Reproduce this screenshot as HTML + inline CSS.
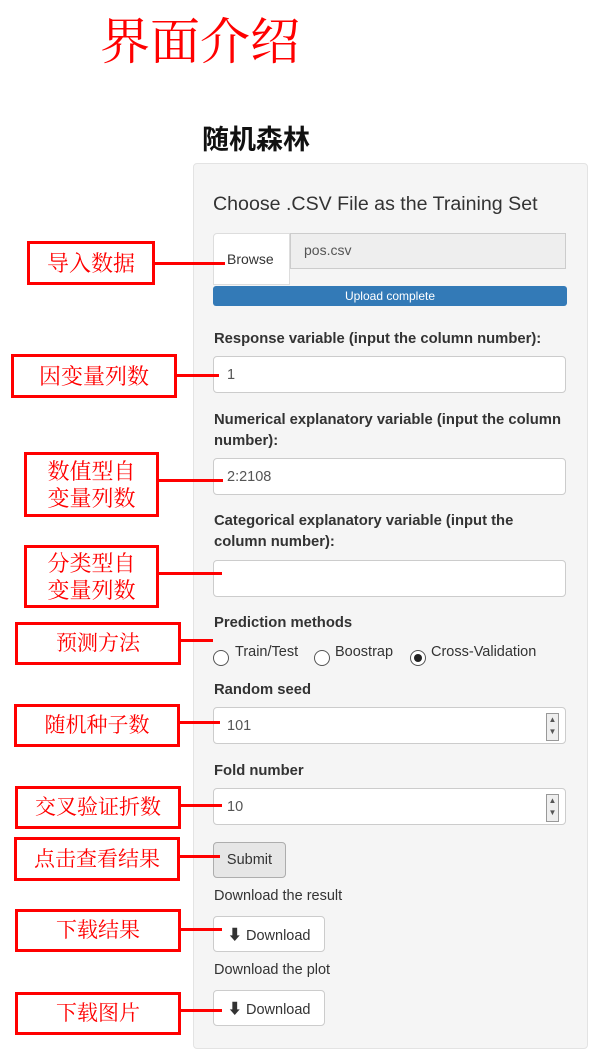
<!DOCTYPE html>
<html><head><meta charset="utf-8"><style>
body{margin:0;width:600px;height:1062px;background:#fff;position:relative;overflow:hidden;font-family:"Liberation Sans","Noto Sans CJK SC",sans-serif;}
.a{position:absolute;}
.t{font-family:"Liberation Serif","Noto Serif CJK SC",serif;color:#f00;}
.box{position:absolute;border:3px solid #f00;box-sizing:border-box;display:flex;align-items:center;justify-content:center;text-align:center;font-family:"Liberation Serif","Noto Serif CJK SC",serif;color:#f00;font-size:21px;line-height:27px;background:#fff;}
.ln{position:absolute;height:3px;background:#f00;}
.lbl{position:absolute;left:214px;font-weight:bold;font-size:14.8px;color:#333;line-height:21px;}
.inp{position:absolute;left:213px;width:353px;background:#fff;border:1px solid #ccc;border-radius:4px;box-sizing:border-box;font-size:14.5px;color:#555;padding-left:13px;display:flex;align-items:center;}
.txt{position:absolute;left:214px;font-size:14.5px;color:#333;}
.btn{position:absolute;left:213px;width:112px;height:36px;background:#fff;border:1px solid #ccc;border-radius:4px;box-sizing:border-box;font-size:14.5px;color:#333;display:flex;align-items:center;justify-content:center;}
.radio{position:absolute;width:16px;height:16px;border:1px solid #555;border-radius:50%;box-sizing:border-box;background:#fff;}
.spin{position:absolute;right:6px;top:5px;width:11px;height:26px;border:1px solid #999;background:#eee;font-size:8px;line-height:12px;text-align:center;}
</style></head><body>
<div class="a t" style="left:100px;top:10px;font-size:50px;line-height:64px;">界面介绍</div>
<div class="a" style="left:202px;top:122px;font-size:27px;line-height:36px;font-weight:bold;color:#111;">随机森林</div>

<div class="a" style="left:193px;top:163px;width:395px;height:886px;background:#f5f5f5;border:1px solid #e3e3e3;border-radius:4px;box-sizing:border-box;"></div>

<div class="a" style="left:213px;top:193px;font-size:19.6px;color:#333;">Choose .CSV File as the Training Set</div>
<div class="a" style="left:213px;top:233px;width:77px;height:52px;background:#fff;border:1px solid #ddd;box-sizing:border-box;border-radius:4px 0 0 0;font-size:14px;color:#333;padding-top:17px;padding-left:13px;">Browse</div>
<div class="a" style="left:290px;top:233px;width:276px;height:36px;background:#eee;border:1px solid #ccc;box-sizing:border-box;font-size:14px;color:#555;padding:8px 0 0 13px;">pos.csv</div>
<div class="a" style="left:213px;top:286px;width:354px;height:20px;background:#337ab7;border-radius:3px;color:#fff;font-size:12px;line-height:20px;text-align:center;">Upload complete</div>

<div class="lbl" style="top:329px;">Response variable (input the column number):</div>
<div class="inp" style="top:356px;height:37px;">1</div>
<div class="lbl" style="top:410px;">Numerical explanatory variable (input the column<br>number):</div>
<div class="inp" style="top:458px;height:37px;">2:2108</div>
<div class="lbl" style="top:511px;">Categorical explanatory variable (input the<br>column number):</div>
<div class="inp" style="top:560px;height:37px;"></div>
<div class="lbl" style="top:613px;">Prediction methods</div>
<span class="radio" style="left:213px;top:650px;"></span><div class="txt" style="left:235px;top:644px;">Train/Test</div>
<span class="radio" style="left:314px;top:650px;"></span><div class="txt" style="left:335px;top:644px;">Boostrap</div>
<span class="radio" style="left:410px;top:650px;"><span style="position:absolute;left:3px;top:3px;width:8px;height:8px;border-radius:50%;background:#222;"></span></span><div class="txt" style="left:431px;top:644px;">Cross-Validation</div>
<div class="lbl" style="top:680px;">Random seed</div>
<div class="inp" style="top:707px;height:37px;">101<div class="spin">▲<br>▼</div></div>
<div class="lbl" style="top:761px;">Fold number</div>
<div class="inp" style="top:788px;height:37px;">10<div class="spin">▲<br>▼</div></div>
<div class="a" style="left:213px;top:842px;width:73px;height:36px;background:#e6e6e6;border:1px solid #adadad;border-radius:4px;box-sizing:border-box;font-size:14.5px;color:#333;display:flex;align-items:center;justify-content:center;">Submit</div>
<div class="txt" style="top:888px;">Download the result</div>
<div class="btn" style="top:916px;">⬇&nbsp;Download</div>
<div class="txt" style="top:962px;">Download the plot</div>
<div class="btn" style="top:990px;">⬇&nbsp;Download</div>

<div class="box" style="left:27px;top:241px;width:128px;height:44px;font-size:22px;">导入数据</div><div class="ln" style="left:155px;top:262px;width:70px;"></div>
<div class="box" style="left:11px;top:354px;width:166px;height:44px;font-size:22px;">因变量列数</div><div class="ln" style="left:177px;top:374px;width:42px;"></div>
<div class="box" style="left:24px;top:452px;width:135px;height:65px;font-size:22px;">数值型自<br>变量列数</div><div class="ln" style="left:159px;top:479px;width:64px;"></div>
<div class="box" style="left:24px;top:545px;width:135px;height:63px;font-size:22px;">分类型自<br>变量列数</div><div class="ln" style="left:159px;top:572px;width:63px;"></div>
<div class="box" style="left:15px;top:622px;width:166px;height:43px;">预测方法</div><div class="ln" style="left:181px;top:639px;width:32px;"></div>
<div class="box" style="left:14px;top:704px;width:166px;height:43px;">随机种子数</div><div class="ln" style="left:180px;top:721px;width:40px;"></div>
<div class="box" style="left:15px;top:786px;width:166px;height:43px;">交叉验证折数</div><div class="ln" style="left:181px;top:804px;width:41px;"></div>
<div class="box" style="left:14px;top:837px;width:166px;height:44px;">点击查看结果</div><div class="ln" style="left:180px;top:855px;width:40px;"></div>
<div class="box" style="left:15px;top:909px;width:166px;height:43px;">下载结果</div><div class="ln" style="left:181px;top:928px;width:41px;"></div>
<div class="box" style="left:15px;top:992px;width:166px;height:43px;">下载图片</div><div class="ln" style="left:181px;top:1009px;width:41px;"></div>
</body></html>
